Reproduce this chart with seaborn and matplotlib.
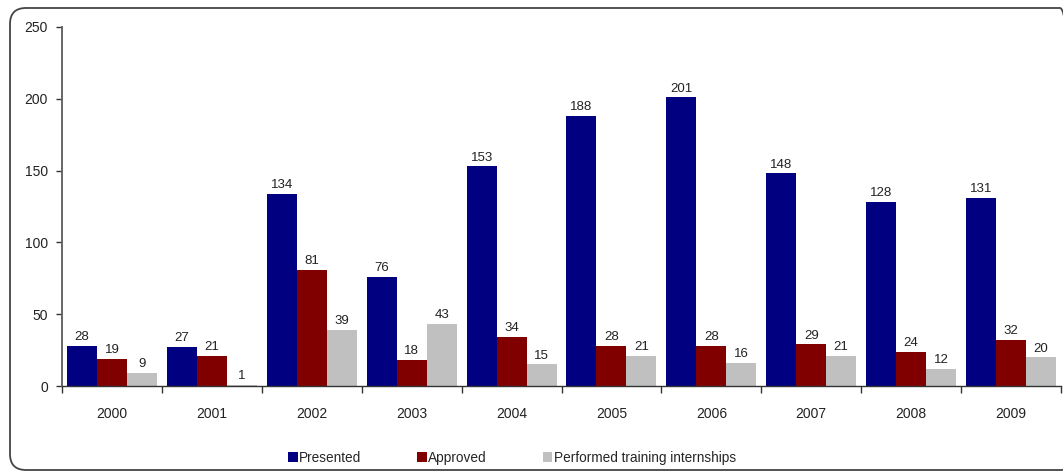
import matplotlib
matplotlib.use("Agg")
import matplotlib.pyplot as plt
from matplotlib.patches import FancyBboxPatch
import seaborn as sns
import pandas as pd

years = ["2000", "2001", "2002", "2003", "2004", "2005", "2006", "2007", "2008", "2009"]
presented = [28, 27, 134, 76, 153, 188, 201, 148, 128, 131]
approved = [19, 21, 81, 18, 34, 28, 28, 29, 24, 32]
performed = [9, 1, 39, 43, 15, 21, 16, 21, 12, 20]
series_names = ["Presented", "Approved", "Performed training internships"]
colors = ["#000080", "#800000", "#C0C0C0"]

rows = []
for name, vals in zip(series_names, [presented, approved, performed]):
    for y, v in zip(years, vals):
        rows.append({"Year": y, "Series": name, "Value": v})
df = pd.DataFrame(rows)

sns.set_style("white")
plt.rcParams["font.family"] = ["Liberation Sans", "DejaVu Sans"]

fig = plt.figure(figsize=(10.63, 4.71), dpi=100)
ax = fig.add_axes([62 / 1063, 1 - 386 / 471, (1061 - 62) / 1063, (386 - 27) / 471])

sns.barplot(data=df, x="Year", y="Value", hue="Series", palette=colors,
            hue_order=series_names, order=years, width=0.9, ax=ax,
            edgecolor="none", linewidth=0, saturation=1, errorbar=None)

for cont in ax.containers:
    ax.bar_label(cont, padding=2, fontsize=9.5, color="#222222")

ax.set_ylim(0, 250)
ax.set_yticks([0, 50, 100, 150, 200, 250])
ax.set_xlim(-0.5, len(years) - 0.5)
ax.set_xlabel("")
ax.set_ylabel("")
ax.tick_params(axis="y", direction="out", length=4, width=1, color="#333333",
               labelsize=10, left=True, pad=6, labelcolor="#222222")
ax.tick_params(axis="x", length=0, labelsize=10, pad=15, labelcolor="#222222")
ax.set_xticks(range(len(years)))
ax.set_xticks([i - 0.5 for i in range(len(years) + 1)], minor=True)
ax.tick_params(axis="x", which="minor", direction="out", length=5, width=1,
               color="#333333", bottom=True)
for s in ["top", "right"]:
    ax.spines[s].set_visible(False)
ax.spines["left"].set_color("#666666")
ax.spines["left"].set_linewidth(1.4)
ax.spines["bottom"].set_color("#333333")
ax.spines["bottom"].set_linewidth(1)

handles, labels = ax.get_legend_handles_labels()
ax.get_legend().remove()
fig.legend(handles, labels, loc="center", bbox_to_anchor=(0.4817, 0.028), ncol=3,
           frameon=False, fontsize=9.8, handlelength=0.7, handleheight=0.7,
           handletextpad=0.1, columnspacing=4.1)

border = FancyBboxPatch((0.10, 0.01), 10.76 - 0.10, 4.63 - 0.01,
                        boxstyle="round,pad=0,rounding_size=0.16",
                        transform=fig.dpi_scale_trans, fill=False,
                        edgecolor="#444444", linewidth=1.3, clip_on=False)
fig.patches.append(border)

fig.savefig("out.png", dpi=100)
